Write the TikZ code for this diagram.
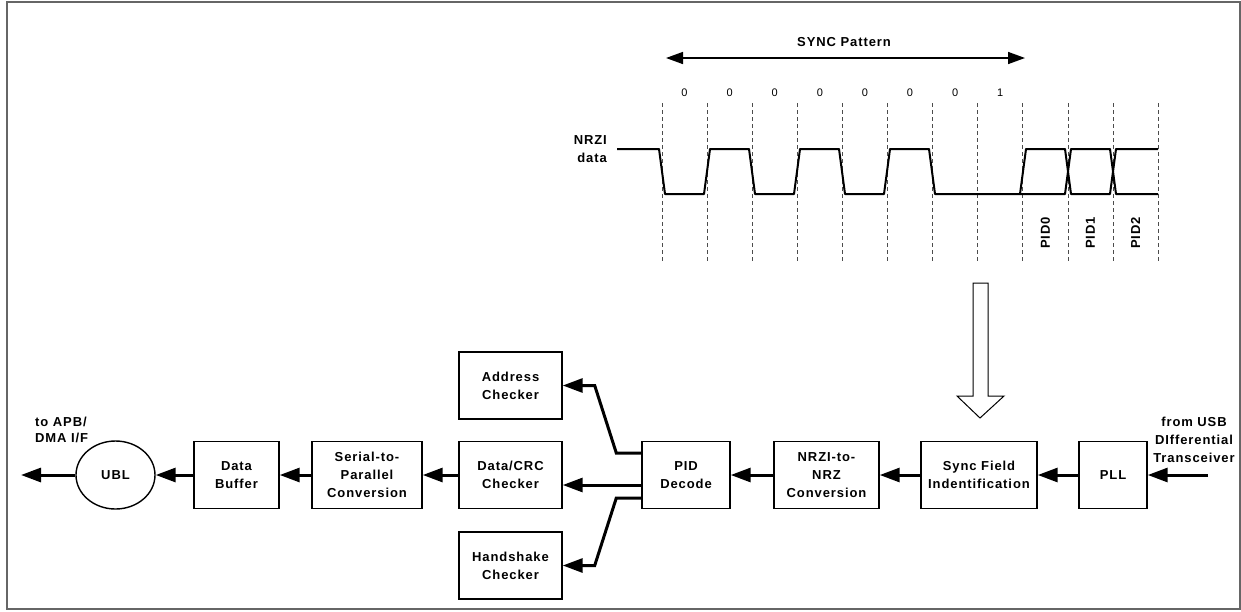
\documentclass[tikz,border=0pt]{standalone}
\usepackage{fontspec}
\setmainfont{Liberation Sans}
\newfontfamily\lblfont[LetterSpace=7]{Liberation Sans}
\usetikzlibrary{arrows.meta,shapes.geometric}
\newcommand\lbl{\lblfont\bfseries\fontsize{13}{17.7}\selectfont}

\begin{document}
\begin{tikzpicture}[x=1pt,y=-1pt,
  blk/.style={draw,line width=1.4pt,minimum height=67pt,inner sep=2pt,align=center,font=\lbl},
  ubl/.style={blk,ellipse,minimum width=79pt,minimum height=68pt,inner sep=0pt},
  txt/.style={align=center,font=\lbl,inner sep=0pt},
  bit/.style={font=\fontsize{11}{13}\selectfont,inner sep=0pt},
  flow/.style={line width=3pt,-{Triangle[length=20pt,width=14pt]}},
  span/.style={line width=1.5pt,{Triangle[length=17pt,width=12pt]}-{Triangle[length=17pt,width=12pt]}},
  wave/.style={line width=2pt,line join=round},
  grid/.style={line width=0.8pt,black!70,dash pattern=on 4pt off 3pt},
  frame/.style={line width=1.5pt,gray!80!black}]
  \useasboundingbox (0,0) rectangle (1241,611);
  \draw[frame] (7,2) rectangle (1240,609);
  % timing of the SYNC field
  \node[txt] (title) at (844,42){SYNC Pattern};
  \coordinate (sl) at (666,58);
  \coordinate (sr) at (1025,58);
  \draw[span] (sl) -- (sr);
  \foreach \i/\b in {0/0,1/0,2/0,3/0,4/0,5/0,6/0,7/1}
    \node[bit] (b\i) at (684.5+45.1*\i,93){\b};
  \foreach \i in {0,...,11}
    \draw[grid] (662+45.1*\i,103) -- (662+45.1*\i,262);
  \node[txt,anchor=east,align=right] (nrzi) at (607,149){NRZI\\data};
  \draw[wave] (617,149) -- (659,149) -- (665,194) -- (704,194) -- (710,149) -- (749,149)
    -- (755,194) -- (794,194) -- (800,149) -- (839,149) -- (845,194) -- (884,194)
    -- (890,149) -- (929,149) -- (935,194) -- (1065,194) -- (1071,149) -- (1110,149)
    -- (1116,194) -- (1158,194);
  \draw[wave] (1020,194) -- (1026,149) -- (1065,149) -- (1071,194) -- (1110,194)
    -- (1116,149) -- (1158,149);
  \foreach \i/\n in {0/PID0,1/PID1,2/PID2}
    \node[txt,rotate=90] (p\i) at (1045.3+45.1*\i,233){\n};
  \draw[line width=1pt,fill=white] (973,283) -- (988,283) -- (988,396) -- (1004,396)
    -- (980,418) -- (957,396) -- (973,396) -- cycle;
  % receive path
  \node[ubl] (ubl) at (115.5,475){UBL};
  \node[blk,minimum width=85pt] (buf) at (236.5,475){Data\\Buffer};
  \node[blk,minimum width=110pt] (s2p) at (367,475){Serial-to-\\Parallel\\Conversion};
  \node[blk,minimum width=103pt] (crc) at (510.5,475){Data/CRC\\Checker};
  \node[blk,minimum width=103pt] (addr) at (510.5,385.5){Address\\Checker};
  \node[blk,minimum width=103pt] (hs) at (510.5,565.5){Handshake\\Checker};
  \node[blk,minimum width=88pt] (pid) at (686,475){PID\\Decode};
  \node[blk,minimum width=105pt] (nrz) at (826.5,475){NRZI-to-\\NRZ\\Conversion};
  \node[blk,minimum width=116pt] (sync) at (979,475){Sync Field\\Indentification};
  \node[blk,minimum width=68pt] (pll) at (1113,475){PLL};
  \node[txt,anchor=west,align=left,font=\lblfont\bfseries\fontsize{13}{15.5}\selectfont] (apbl) at (35,430){to APB/\\DMA I/F};
  \node[txt] (usbl) at (1194,440){from USB\\DIfferential\\Transceiver};
  \coordinate (usb) at (1208,475);
  \coordinate (apb) at (21,475);
  \draw[flow] (usb) -- (pll.east);
  \draw[flow] (pll.west) -- (sync.east);
  \draw[flow] (sync.west) -- (nrz.east);
  \draw[flow] (nrz.west) -- (pid.east);
  \draw[flow] ([yshift=22pt]pid.west) -- ++(-25,0) -- ([xshift=32pt]addr.east) -- (addr.east);
  \draw[flow] ([yshift=-10pt]pid.west) -- ([yshift=-10pt]pid.west -| crc.east);
  \draw[flow] ([yshift=-23pt]pid.west) -- ++(-25,0) -- ([xshift=32pt]hs.east) -- (hs.east);
  \draw[flow] (crc.west) -- (s2p.east);
  \draw[flow] (s2p.west) -- (buf.east);
  \draw[flow] (buf.west) -- (ubl.east);
  \draw[flow] (ubl.west) -- (apb);
\end{tikzpicture}
\end{document}
